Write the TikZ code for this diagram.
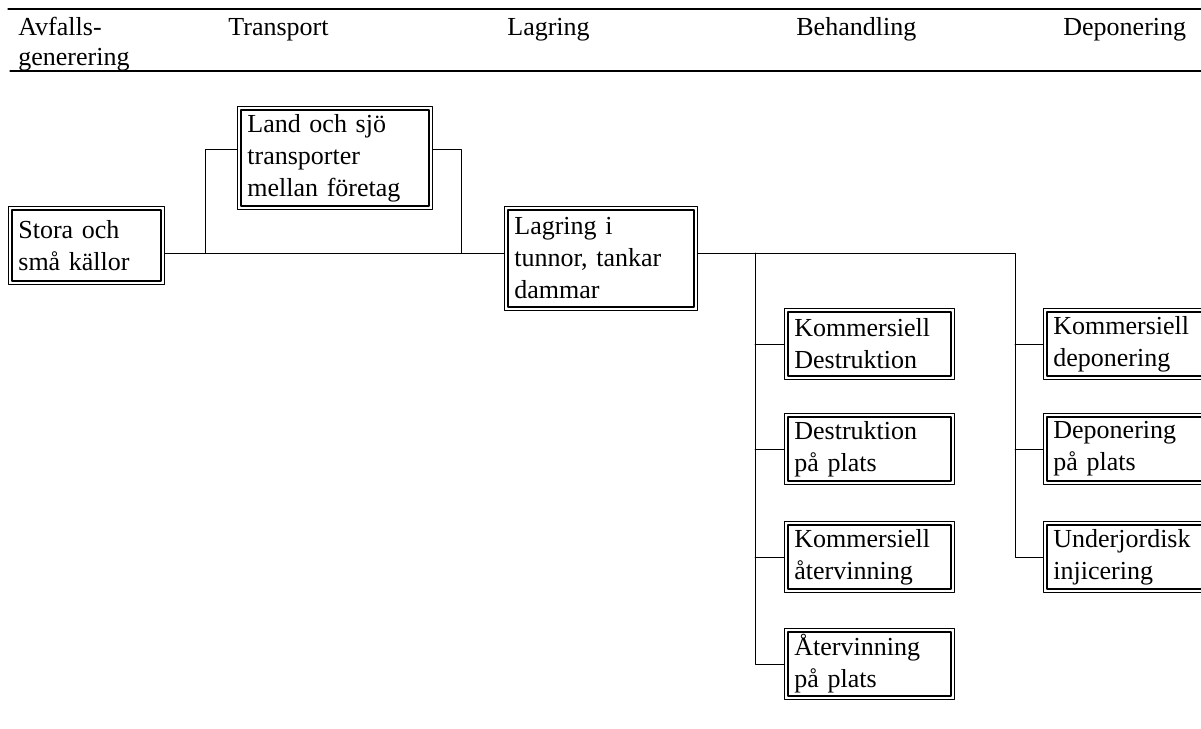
\documentclass[tikz,border=0pt]{standalone}
\usepackage{fontspec}
\setmainfont{Liberation Serif}
\begin{document}
\begin{tikzpicture}[line cap=round, line join=round, x=0.5pt, y=-0.5pt, font=\fontsize{13}{16}\selectfont]
	\tikzset{box/.style={draw, line width=0.4pt, anchor=north west, align=left, inner xsep=5pt, inner ysep=2pt, text width=#1, minimum height=35.5pt,
			path picture={\draw[line width=0.8pt] ([shift={(1.7pt,-1.7pt)}]path picture bounding box.north west) rectangle ([shift={(-1.7pt,1.7pt)}]path picture bounding box.south east);}}, box/.default=75pt,
		hdr/.style={anchor=base west, inner sep=0pt}}
	\useasboundingbox (0,0) rectangle (1201,729);
	\draw[line width=0.6pt] (8,9)--(1201,9) (10,71)--(1201,71);
	\node[hdr] (h1) at (18,35) {Avfalls-};
	\node[hdr] (h1b) at (18,65) {generering};
	\node[hdr] (h2) at (228,35) {Transport};
	\node[hdr] (h3) at (507,35) {Lagring};
	\node[hdr] (h4) at (796,35) {Behandling};
	\node[hdr] (h5) at (1063,35) {Deponering};
	\node[box=68pt, minimum height=39pt] (src) at (8,206) {Stora och\\små källor};
	\node[box=87.5pt, minimum height=51.5pt] (trans) at (237,106) {Land och sjö\\transporter\\mellan företag};
	\node[box=86.5pt, minimum height=52pt] (lag) at (504,206) {Lagring i\\tunnor, tankar\\dammar};
	\node[box] (b1) at (784,308) {Kommersiell\\Destruktion};
	\node[box] (b2) at (784,413) {Destruktion\\på plats};
	\node[box] (b3) at (784,521) {Kommersiell\\återvinning};
	\node[box] (b4) at (784,628) {Återvinning\\på plats};
	\node[box] (d1) at (1043,308) {Kommersiell\\deponering};
	\node[box] (d2) at (1043,413) {Deponering\\på plats};
	\node[box] (d3) at (1043,521) {Underjordisk\\injicering};
	\coordinate (m) at (0,253);
	\coordinate (bl) at (205,253);
	\coordinate (br) at (461,253);
	\coordinate (bj) at (755,253);
	\coordinate (dj) at (1015,253);
	\draw (src.east |- m)--(lag.west |- m);
	\draw (bl) |- (trans.175);
	\draw (trans.5) -| (br);
	\draw (lag.east |- m)--(dj) |- (d3.west);
	\draw (bj) |- (b4.west);
	\foreach \n in {b1,b2,b3} \draw (bj |- \n.west)--(\n.west);
	\foreach \n in {d1,d2} \draw (dj |- \n.west)--(\n.west);
\end{tikzpicture}
\end{document}
